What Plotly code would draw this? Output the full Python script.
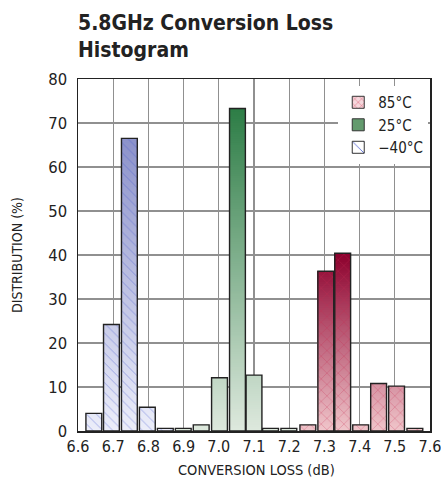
import math
import plotly.graph_objects as go

# ---- data ----
x_m40 = [6.645, 6.695, 6.746, 6.797, 6.848]
y_m40 = [4.0, 24.2, 66.5, 5.4, 0.6]
x_25 = [6.899, 6.950, 7.002, 7.053, 7.100, 7.147, 7.199]
y_25 = [0.6, 1.4, 12.1, 73.3, 12.7, 0.6, 0.6]
x_85 = [7.253, 7.304, 7.352, 7.403, 7.454, 7.505, 7.557]
y_85 = [1.4, 36.3, 40.4, 1.4, 10.8, 10.2, 0.6]
x_ticks = [6.6, 6.7, 6.8, 6.9, 7.0, 7.1, 7.2, 7.3, 7.4, 7.5, 7.6]
y_ticks = [0, 10, 20, 30, 40, 50, 60, 70, 80]

FONT = "DejaVu Sans Condensed, Liberation Sans Narrow, sans-serif"
BAR_W = 0.045
STEP = 0.5

styles = {
    "m40": dict(bottom=(236, 238, 250), top=(140, 146, 202), ref=66.5,
                shape="\\", fg="rgb(70,90,210)", size=7),
    "25": dict(bottom=(222, 233, 222), top=(45, 125, 70), ref=73.3,
               shape="", fg=None, size=8),
    "85": dict(bottom=(240, 198, 203), top=(140, 0, 45), ref=40.4,
               shape="x", fg="rgb(200,40,80)", size=8),
}


def grad(style, yv):
    t = max(0.0, min(1.0, yv / style["ref"]))
    b, tp = style["bottom"], style["top"]
    c = [round(b[i] + (tp[i] - b[i]) * t) for i in range(3)]
    return f"rgb({c[0]},{c[1]},{c[2]})"


fig = go.Figure()

series = [("m40", x_m40, y_m40), ("25", x_25, y_25), ("85", x_85, y_85)]

# gradient fills (segments from base up to bar top, drawn bottom -> top)
for key, xs, ys in series:
    st = styles[key]
    sx, sy, sb, sc = [], [], [], []
    for xv, h in zip(xs, ys):
        n = max(1, math.ceil(h / STEP))
        for k in range(n):
            base = k * STEP
            if base >= h:
                break
            sx.append(xv)
            sb.append(base)
            sy.append(h - base)
            sc.append(grad(st, base + STEP / 2))
    fig.add_trace(go.Bar(x=sx, y=sy, base=sb, width=BAR_W,
                         marker=dict(color=sc, line=dict(width=0)),
                         showlegend=False, hoverinfo="skip"))

# outline + pattern overlay
for key, xs, ys in series:
    st = styles[key]
    pat = dict(shape=st["shape"], fgcolor=st["fg"], size=st["size"],
               solidity=0.12, fillmode="overlay") if st["shape"] else None
    mk = dict(color="rgba(0,0,0,0)", line=dict(color="#222", width=1.4))
    if pat:
        mk["pattern"] = pat
    fig.add_trace(go.Bar(x=xs, y=ys, width=BAR_W, marker=mk,
                         showlegend=False, hoverinfo="skip"))

# legend entries
fig.add_trace(go.Bar(x=[None], y=[None], name="85°C",
                     marker=dict(color="white", line=dict(color="#333", width=1),
                                 pattern=dict(shape="x", fgcolor="rgb(210,60,90)",
                                              size=6, solidity=0.15, fillmode="replace",
                                              bgcolor="rgb(245,215,220)"))))
fig.add_trace(go.Bar(x=[None], y=[None], name="25°C",
                     marker=dict(color="rgb(100,155,110)",
                                 line=dict(color="#333", width=1))))
fig.add_trace(go.Bar(x=[None], y=[None], name="\u221240°C",
                     marker=dict(color="white", line=dict(color="#333", width=1),
                                 pattern=dict(shape="\\", fgcolor="rgb(70,90,210)",
                                              size=10, solidity=0.1, fillmode="replace",
                                              bgcolor="white"))))

fig.update_layout(
    width=441, height=486,
    margin=dict(l=78, r=11, t=79, b=55, autoexpand=False),
    barmode="overlay",
    paper_bgcolor="white", plot_bgcolor="white",
    font=dict(family=FONT, size=16, color="#222"),
    legend=dict(x=0.995, y=0.98, xanchor="right", yanchor="top",
                bgcolor="white", borderwidth=0, traceorder="normal",
                font=dict(family=FONT, size=15, color="#222"),
                itemwidth=30, tracegroupgap=0),
    xaxis=dict(range=[6.6, 7.6], tickvals=x_ticks, tickformat=".1f",
               showgrid=True, gridcolor="#909090", gridwidth=1.3,
               showline=True, linecolor="#222", linewidth=1.5, mirror=True,
               ticks="", zeroline=False, automargin=False,
               ticklabeloverflow="allow",
               tickfont=dict(size=16)),
    yaxis=dict(range=[0, 80], tickvals=y_ticks,
               showgrid=True, gridcolor="#909090", gridwidth=1.3,
               showline=True, linecolor="#222", linewidth=1.5, mirror=True,
               ticks="", zeroline=False, automargin=False,
               ticklabelstandoff=6,
               tickfont=dict(size=16.5)),
    annotations=[
        dict(text="<b>5.8GHz Conversion Loss<br>Histogram</b>",
             xref="paper", yref="paper", x=0, y=1, xanchor="left", yanchor="bottom",
             yshift=15, xshift=-2, showarrow=False, align="left",
             font=dict(family=FONT, size=21, color="#222")),
        dict(text="DISTRIBUTION (%)", textangle=-90,
             xref="paper", yref="paper", x=0, y=0.5, xanchor="center", yanchor="middle",
             xshift=-61, showarrow=False, font=dict(family=FONT, size=14, color="#222")),
        dict(text="CONVERSION LOSS (dB)",
             xref="paper", yref="paper", x=0.506, y=0, xanchor="center", yanchor="middle",
             yshift=-39, showarrow=False, font=dict(family=FONT, size=14.5, color="#222")),
    ],
)

fig.write_html("out.html",
               config={"displayModeBar": False, "staticPlot": True},
               post_script="document.body.style.margin='0';document.body.style.overflow='hidden';")
